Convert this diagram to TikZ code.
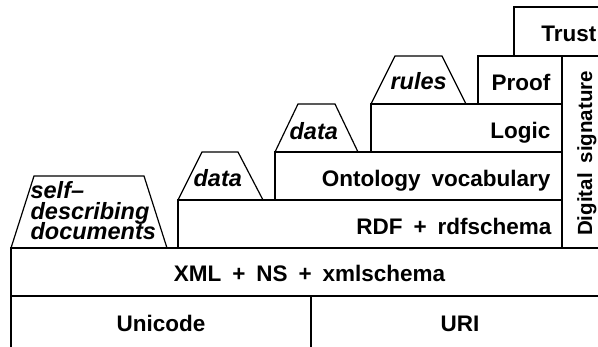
\documentclass[tikz,border=0pt]{standalone}
\usepackage{fontspec}
\setmainfont{Liberation Sans}[WordSpace=1.75]
\begin{document}
\begin{tikzpicture}[x=1pt,y=-1pt,line width=1.2pt,
  layerbox/.style={draw=black},
  lbl/.style={font=\fontsize{22.5}{22}\selectfont\bfseries,inner sep=0pt},
  siglbl/.style={font=\fontsize{20.5}{20}\selectfont\bfseries,inner sep=0pt},
  ilbl/.style={font=\fontsize{23.5}{20.5}\selectfont\bfseries\itshape,inner sep=0pt}]
\useasboundingbox (0,0) rectangle (598,347);
\fill[white] (0,0) rectangle (598,347);
\clip (0,0) rectangle (598,347);
% layers
\draw[layerbox] (11,296) rectangle (311,362);
\draw[layerbox] (311,296) rectangle (610,362);
\draw[layerbox] (11,248) rectangle (610,296);
\draw[layerbox] (178,200) rectangle (562,248);
\draw[layerbox] (275,152) rectangle (562,200);
\draw[layerbox] (371,104) rectangle (562,152);
\draw[layerbox] (478,56) rectangle (562,104);
\draw[layerbox] (514,7) rectangle (610,56);
\draw[layerbox] (562,56) rectangle (610,248);
% trapezoids
\draw[layerbox] (11,248) -- (34,176) -- (144,176) -- (167,248);
\draw[layerbox] (178,200) -- (202,152) -- (238,152) -- (263,200);
\draw[layerbox] (275,152) -- (298,104) -- (335,104) -- (358,152);
\draw[layerbox] (371,104) -- (395,56) -- (442,56) -- (466,104);
% labels
\node[lbl,anchor=base] (unicode) at (161,332) {Unicode};
\node[lbl,anchor=base] (uri) at (460,332) {URI};
\node[lbl,anchor=base] (xml) at (309.5,282) {XML + NS + xmlschema};
\node[lbl,anchor=base east] (rdf) at (552,235) {RDF + rdfschema};
\node[lbl,anchor=base east] (onto) at (551,187) {Ontology vocabulary};
\node[lbl,anchor=base east] (logic) at (551,139) {Logic};
\node[lbl,anchor=base east] (proof) at (551,91) {Proof};
\node[lbl,anchor=base east] (trust) at (597,42) {Trust};
\node[siglbl,anchor=base,rotate=90] (sig) at (592,153.5) {Digital signature};
\node[ilbl,anchor=base west] (selfdoc) at (30,199)
  {\lineskiplimit=-100pt\vtop{\hbox{self–}\hbox{describing}\hbox{documents}}};
\node[ilbl,anchor=base west] (data1) at (193,187) {data};
\node[ilbl,anchor=base west] (data2) at (289,140) {data};
\node[ilbl,anchor=base west] (rules) at (390,90) {rules};
\end{tikzpicture}
\end{document}
